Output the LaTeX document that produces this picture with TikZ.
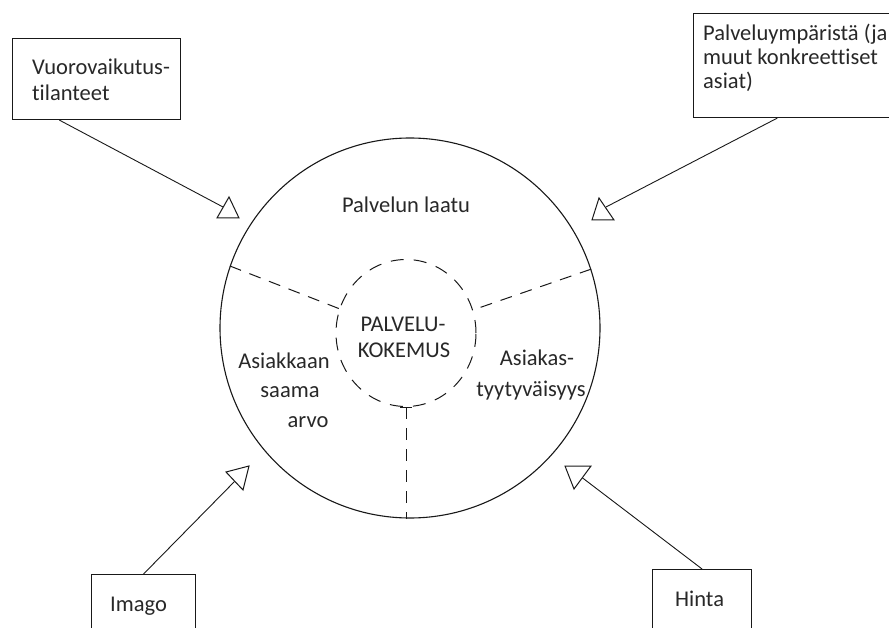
\documentclass[tikz,border=0pt]{standalone}
\usepackage{fontspec}
\setmainfont[Ligatures={NoCommon}]{Carlito}
\usetikzlibrary{shapes.geometric,calc}
\definecolor{ink}{RGB}{25,25,25}
\definecolor{txt}{RGB}{40,40,40}
\begin{document}
\begin{tikzpicture}[x=1pt,y=-1pt,
  box/.style={draw=ink,line width=1.1pt,rectangle,inner sep=0pt,anchor=north west},
  lbl/.style={text=txt,font=\fontsize{22.5}{27}\selectfont,inner sep=0pt},
  conn/.style={draw=ink,line width=0.9pt},
  tri/.style={draw=ink,line width=1pt,fill=white,line join=miter},
  spoke/.style={draw=ink,line width=1pt,dash pattern=on 12pt off 9pt}]
\useasboundingbox (0,0) rectangle (889,628);
\fill[white] (0,0) rectangle (889,628);

% big circle and inner dashed circle
\node[draw=ink,line width=1.1pt,circle,minimum size=380pt,inner sep=0pt] (big) at (410,328) {};
\node[draw=ink,line width=1pt,ellipse,minimum width=140pt,minimum height=147pt,inner sep=0pt,dash pattern=on 13pt off 10pt] (inner) at (406,333) {};

% spokes
\draw[spoke] (big.161) -- (inner.160);
\draw[spoke] (big.18) -- (inner.19);
\draw[spoke] (inner.south) -- (inner.south |- big.south);
\draw[draw=ink,line width=1pt] ($(inner.south)+(-6,0)$) coordinate (tl) -- ($(inner.south)+(6,0)$) coordinate (tr);

% circle texts
\node[lbl,anchor=base] (laatu) at (406,213) {Palvelun laatu};
\node[lbl,anchor=base] (pk1) at (403,331) {PALVELU-};
\node[lbl,anchor=base] (pk2) at (404,358) {KOKEMUS};
\node[lbl,anchor=base] (as1) at (284,368) {Asiakkaan};
\node[lbl,anchor=base] (as2) at (290,397) {saama};
\node[lbl,anchor=base] (as3) at (308,427) {arvo};
\node[lbl,anchor=base] (ty1) at (537,365) {Asiakas-};
\node[lbl,anchor=base] (ty2) at (531,396) {tyytyväisyys};

% boxes
\node[box,minimum width=168pt,minimum height=81pt] (vbox) at (12,38) {};
\node[lbl,anchor=base west] (v1) at (32,75) {Vuorovaikutus-};
\node[lbl,anchor=base west] (v2) at (32,101) {tilanteet};

\node[box,minimum width=215pt,minimum height=104pt] (pbox) at (693,13) {};
\node[lbl,anchor=base west] (p1) at (703,41) {Palveluympäristä (ja};
\node[lbl,anchor=base west] (p2) at (703,65) {muut konkreettiset};
\node[lbl,anchor=base west] (p3) at (703,89) {asiat)};

\node[box,minimum width=104pt,minimum height=80pt] (ibox) at (91,574) {};
\node[lbl,anchor=base west] (imago) at (110,611) {Imago};

\node[box,minimum width=99pt,minimum height=80pt] (hbox) at (652,569) {};
\node[lbl,anchor=base west] (hinta) at (675,606) {Hinta};

% arrow end points
\coordinate (e1) at (223,207);
\coordinate (e2) at (606,207);
\coordinate (e3) at (236,480);
\coordinate (e4) at (580,476);

\draw[conn] ($(vbox.south west)!0.28!(vbox.south east)$) -- (e1);
\draw[conn] ($(pbox.south west)!0.39!(pbox.south east)$) -- (e2);
\draw[conn] (ibox.north) -- (e3);
\draw[conn] (hbox.north) -- (e4);

% open triangle heads
\draw[tri] (229,197) -- (217,218) -- (239,218) -- cycle;
\draw[tri] (599,198) -- (592,220) -- (614,220) -- cycle;
\draw[tri] (226,472) -- (249,466) -- (243,490) -- cycle;
\draw[tri] (565,466) -- (591,466) -- (574,489) -- cycle;
\end{tikzpicture}
\end{document}
